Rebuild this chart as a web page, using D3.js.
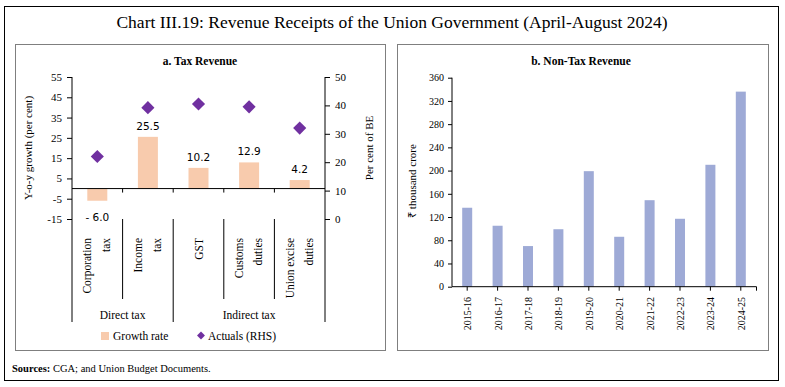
<!DOCTYPE html>
<html lang="en">
<head>
<meta charset="utf-8">
<title>Chart III.19</title>
<script src="https://d3js.org/d3.v7.min.js"></script>
<style>
  body{margin:0;background:#fff;}
  text{font-family:"Liberation Serif",serif;fill:#000;}
  .sans{font-family:"DejaVu Sans",sans-serif;}
</style>
</head>
<body>
<div id="chart"></div>
<script>
// panel a data
var taxCats = [["Corporation","tax"],["Income","tax"],["GST"],["Customs","duties"],["Union excise","duties"]]
var growth = [-6.0, 25.5, 10.2, 12.9, 4.2]
var actuals = [22, 39.2, 40.5, 39.5, 32]
var leftTicks = [-15,-5,5,15,25,35,45,55]
var rightTicks = [0,10,20,30,40,50]
var groups = [["Direct tax",0,2],["Indirect tax",2,5]]

// panel b data
var years = ["2015-16","2016-17","2017-18","2018-19","2019-20","2020-21","2021-22","2022-23","2023-24","2024-25"]
var nonTax = [136, 105, 70, 99, 199, 86, 149, 117, 210, 336]
var nonTaxTicks = [0,40,80,120,160,200,240,280,320,360]

var W = 785, H = 387
var svg = d3.select("#chart").append("svg").attr("width",W).attr("height",H)

// outer frame
svg.append("rect").attr("x",4.5).attr("y",6.5).attr("width",774).attr("height",374)
   .attr("fill","none").attr("stroke","#000").attr("stroke-width",1)
svg.append("text").attr("x",392).attr("y",28).attr("text-anchor","middle")
   .style("font-size","17.5px").text("Chart III.19: Revenue Receipts of the Union Government (April-August 2024)")

// panel boxes
svg.append("rect").attr("x",15.5).attr("y",44.5).attr("width",370).attr("height",306)
   .attr("fill","none").attr("stroke","#7f7f7f")
svg.append("rect").attr("x",397.5).attr("y",44.5).attr("width",371).attr("height",306)
   .attr("fill","none").attr("stroke","#7f7f7f")

svg.append("text").attr("x",12).attr("y",372).style("font-size","10.5px")
   .html('<tspan font-weight="bold">Sources:</tspan> CGA; and Union Budget Documents.')

// ---------- panel a ----------
var a = svg.append("g")
a.append("text").attr("x",200).attr("y",65).attr("text-anchor","middle")
 .style("font-size","11.5px").style("font-weight","bold").text("a. Tax Revenue")

var x1 = d3.scaleBand().domain(d3.range(taxCats.length)).range([72,325])
var yL = d3.scaleLinear().domain([-15,55]).range([219,77])
var yR = d3.scaleLinear().domain([0,50]).range([219,77])

a.append("g").attr("transform","translate(72,0)")
 .call(d3.axisLeft(yL).tickValues(leftTicks).tickSize(5).tickFormat(function(d){ return String(d) }))
 .call(function(g){ g.select(".domain").attr("d","M0,77V219"); g.selectAll("text").style("font-size","11px").attr("font-family","Liberation Serif").attr("dx","-2") })
a.append("g").attr("transform","translate(325,0)")
 .call(d3.axisRight(yR).tickValues(rightTicks).tickSize(5))
 .call(function(g){ g.select(".domain").attr("d","M0,77V219"); g.selectAll("text").style("font-size","11px").attr("font-family","Liberation Serif").attr("dx","2") })

// bars
var bw = 20
a.selectAll(".gbar").data(growth).enter().append("rect")
 .attr("x",function(d,i){ return x1(i)+x1.bandwidth()/2-bw/2 })
 .attr("y",function(d){ return yL(Math.max(d,0)) })
 .attr("width",bw)
 .attr("height",function(d){ return Math.abs(yL(d)-yL(0)) })
 .attr("fill","#f8cbad")
a.selectAll(".glab").data(growth).enter().append("text")
 .attr("x",function(d,i){ return x1(i)+x1.bandwidth()/2 })
 .attr("y",function(d){ return d<0 ? yL(d)+20 : yL(d)-7 })
 .attr("text-anchor","middle").style("font-size","10.5px").attr("class","sans")
 .text(function(d){ return d<0 ? "- "+Math.abs(d).toFixed(1) : d.toFixed(1) })

// zero line and category ticks
a.append("line").attr("x1",72).attr("x2",325).attr("y1",yL(0)).attr("y2",yL(0)).attr("stroke","#000")
a.selectAll(".ztick").data(d3.range(1,taxCats.length)).enter().append("line")
 .attr("x1",function(i){ return x1(i) }).attr("x2",function(i){ return x1(i) })
 .attr("y1",yL(0)).attr("y2",yL(0)+4).attr("stroke","#000")

// diamonds
a.selectAll(".dia").data(actuals).enter().append("path")
 .attr("d",d3.symbol().type(d3.symbolDiamond2).size(110))
 .attr("transform",function(d,i){ return "translate("+(x1(i)+x1.bandwidth()/2)+","+yR(d)+")" })
 .attr("fill","#7030a0")

// category dividers below plot
var divs = d3.range(0,taxCats.length+1)
a.selectAll(".div").data(divs).enter().append("line")
 .attr("x1",function(i){ return i<taxCats.length ? x1(i) : 325 })
 .attr("x2",function(i){ return i<taxCats.length ? x1(i) : 325 })
 .attr("y1",219)
 .attr("y2",function(i){ return (i==0||i==2||i==5) ? 322 : 299 })
 .attr("stroke","#000")

// rotated category labels
taxCats.forEach(function(lines,i){
  var cx = x1(i)+x1.bandwidth()/2
  var off = lines.length==1 ? [4] : [-6,13]
  lines.forEach(function(t,j){
    a.append("text").attr("transform","translate("+(cx+off[j])+",238) rotate(-90)")
     .attr("text-anchor","end").style("font-size","11.5px").text(t)
  })
})
groups.forEach(function(gr){
  var cx = (x1(gr[1]) + (gr[2]<taxCats.length ? x1(gr[2]) : 325))/2
  a.append("text").attr("x",cx).attr("y",319).attr("text-anchor","middle").style("font-size","11.5px").text(gr[0])
})

// axis titles
a.append("text").attr("transform","translate(32,148) rotate(-90)").attr("text-anchor","middle")
 .style("font-size","11px").text("Y-o-y growth (per cent)")
a.append("text").attr("transform","translate(373,148) rotate(-90)").attr("text-anchor","middle")
 .style("font-size","11px").text("Per cent of BE")

// legend
a.append("rect").attr("x",101).attr("y",332).attr("width",8).attr("height",8).attr("fill","#f8cbad")
a.append("text").attr("x",113).attr("y",339.5).style("font-size","11.5px").text("Growth rate")
a.append("path").attr("d",d3.symbol().type(d3.symbolDiamond2).size(40)).attr("transform","translate(201,335.5)").attr("fill","#7030a0")
a.append("text").attr("x",208).attr("y",339.5).style("font-size","11.5px").text("Actuals (RHS)")

// ---------- panel b ----------
var b = svg.append("g")
b.append("text").attr("x",581).attr("y",65).attr("text-anchor","middle")
 .style("font-size","11.5px").style("font-weight","bold").text("b. Non-Tax Revenue")

var x2 = d3.scaleBand().domain(years).range([452,756])
var y2 = d3.scaleLinear().domain([0,360]).range([286.7,77.7])

b.selectAll(".nbar").data(nonTax).enter().append("rect")
 .attr("x",function(d,i){ return x2(years[i])+x2.bandwidth()/2-5 })
 .attr("y",function(d){ return y2(d) })
 .attr("width",10)
 .attr("height",function(d){ return y2(0)-y2(d) })
 .attr("fill","#9eaad6")

b.append("g").attr("transform","translate(452,0)")
 .call(d3.axisLeft(y2).tickValues(nonTaxTicks).tickSize(4))
 .call(function(g){ g.select(".domain").attr("d","M0,77.7V286.7"); g.selectAll("text").attr("font-family","DejaVu Sans").style("font-size","10px").attr("dx","-1") })
b.append("g").attr("transform","translate(0,286.7)")
 .call(d3.axisBottom(x2).tickSize(4).tickFormat(""))
 .call(function(g){ g.select(".domain").attr("d","M452,0H756.5V4") })
b.selectAll(".ylab").data(years).enter().append("text")
 .attr("transform",function(d){ return "translate("+(x2(d)+x2.bandwidth()/2+4)+",297) rotate(-90)" })
 .attr("text-anchor","end").attr("font-family","DejaVu Sans").style("font-size","10px").text(function(d){ return d })

b.append("text").attr("transform","translate(416,181) rotate(-90)").attr("text-anchor","middle")
 .style("font-size","11px").text("₹ thousand crore")
</script>
</body>
</html>
